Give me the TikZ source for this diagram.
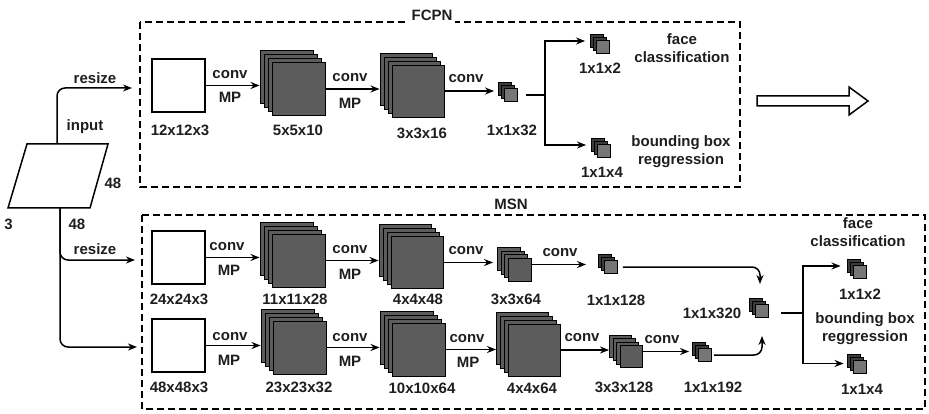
\documentclass[tikz,border=0pt]{standalone}
\usepackage{fontspec}
\setmainfont{Liberation Sans}
\usetikzlibrary{arrows.meta}
\definecolor{sheetgray}{RGB}{92,92,92}
\definecolor{cubedark}{RGB}{60,60,60}
\definecolor{cubelight}{RGB}{118,118,118}
\definecolor{txtgray}{RGB}{30,30,30}
% stack of feature maps: name, x, y (front centre), size, back sheets, step, back style, front style
\newcommand{\layerstack}[8]{%
  \foreach \k in {#5,...,1}
    \node[#7,minimum size=#4pt] (#1-\k) at ([shift={(-\k*#6,-\k*#6)}]#2,#3) {};
  \node[#8,minimum size=#4pt] (#1) at (#2,#3) {};
}
\begin{document}
\begin{tikzpicture}[x=1pt,y=-1pt,
  lbl/.style={inner sep=0pt,font=\fontsize{15}{18}\selectfont\bfseries,text=txtgray,align=center},
  inbox/.style={draw,fill=white,line width=1.1pt,minimum size=53pt,inner sep=0pt},
  bigsheet/.style={draw,fill=sheetgray,line width=0.9pt,inner sep=0pt},
  cubeback/.style={draw,fill=cubedark,line width=0.9pt,inner sep=0pt},
  cubefront/.style={draw,fill=cubelight,line width=0.9pt,inner sep=0pt},
  netframe/.style={draw,dash pattern=on 7pt off 4pt,line width=1.3pt},
  flow/.style={line width=1.5pt,-{Stealth[length=9pt,width=7pt]}},
  wire/.style={line width=1.5pt}]
\useasboundingbox (0,0) rectangle (929,414);

% frames
\draw[netframe] (140,22) rectangle (740,187);
\draw[netframe] (142,215) rectangle (925,409);
\node[lbl,fill=white,inner sep=3pt] (fcpn) at (432,15) {FCPN};
\node[lbl] (msn) at (511,204) {MSN};

% input image
\draw[line width=1.5pt,fill=white] (27,144) -- (108,144) -- (90,208) -- (8,208) -- cycle;
\coordinate (itop) at (57,144);
\coordinate (ibot) at (60,208);
\node[lbl] (ilbl) at (85,127) {input};
\node[lbl] (w48) at (113,183) {48};
\node[lbl] (h48) at (77,224) {48};
\node[lbl] (d3) at (8.5,224) {3};

% FCPN
\node[inbox] (f12) at (178.5,85.5) {};
\layerstack{f5}{298.5}{89}{53}{3}{4}{bigsheet}{bigsheet}
\layerstack{f3}{418}{91}{52}{3}{4}{bigsheet}{bigsheet}
\layerstack{f32}{511}{95}{13}{2}{3}{cubeback}{cubefront}
\layerstack{f2}{603}{47}{13}{2}{3}{cubeback}{cubefront}
\layerstack{f4}{604}{151}{13}{2}{3}{cubeback}{cubefront}

\coordinate (fin) at (132,88);
\draw[flow,rounded corners=8pt] (itop) |- (fin);
\node[lbl] at (95,78) {resize};
\draw[flow] (f12.east) -- (f12.east -| f5-3.west);
\node[lbl] at (230,75) {conv};
\node[lbl] at (230,97.5) {MP};
\draw[flow] (f5.east) -- (f5.east -| f3-3.west);
\node[lbl] at (350,78) {conv};
\node[lbl] at (350,103) {MP};
\draw[flow,shorten >=4pt] (f3.east) -- (f3.east -| f32-2.west);
\node[lbl] at (466,79) {conv};
\coordinate (fsplit) at (545,95);
\draw[wire,shorten <=8pt] (f32.east) -- (fsplit);
\draw[flow,shorten >=5pt] (fsplit) |- (f2-2.west);
\draw[flow,shorten >=5pt] (fsplit) |- (f4-2.west);

\node[lbl] at (180,130) {12x12x3};
\node[lbl] at (298,130) {5x5x10};
\node[lbl] at (422,133) {3x3x16};
\node[lbl] at (512,130) {1x1x32};
\node[lbl] at (600,68) {1x1x2};
\node[lbl] at (602,172) {1x1x4};
\node[lbl] at (682,48.5) {face\\classification};
\node[lbl] at (681,152) {bounding box\\reggression};

% big arrow
\draw[line width=1.5pt] (757,96) -- (849,96) -- (849,87) -- (868,101) -- (849,115) -- (849,106) -- (757,106) -- cycle;

% MSN
\coordinate (m24in) at (135,260);
\coordinate (m48in) at (137,347);
\draw[flow,rounded corners=8pt] (ibot) |- (m24in);
\draw[flow,rounded corners=8pt] (ibot) |- (m48in);
\node[lbl] at (95,249) {resize};

\node[inbox] (m24) at (178.5,257.5) {};
\layerstack{m11}{298.5}{260.5}{53}{3}{4}{bigsheet}{bigsheet}
\layerstack{m4a}{417}{262.5}{52}{3}{4}{bigsheet}{bigsheet}
\layerstack{m3a}{519.5}{269.5}{23}{3}{3.5}{bigsheet}{bigsheet}
\layerstack{m128}{611}{267}{13}{2}{3}{cubeback}{cubefront}
\layerstack{m320}{762}{311}{13}{2}{3}{cubeback}{cubefront}
\node[inbox] (m48) at (178.5,345.5) {};
\layerstack{m23}{299.5}{347.5}{53}{3}{4}{bigsheet}{bigsheet}
\layerstack{m10}{418.5}{349.5}{53}{3}{4}{bigsheet}{bigsheet}
\layerstack{m4b}{534.5}{350}{52}{3}{4}{bigsheet}{bigsheet}
\layerstack{m3b}{631}{356.5}{22}{3}{3.5}{bigsheet}{bigsheet}
\layerstack{m192}{705}{355}{13}{2}{3}{cubeback}{cubefront}
\layerstack{m2}{859.5}{272}{13}{2}{3}{cubeback}{cubefront}
\layerstack{m4}{859.5}{366.5}{13}{2}{3}{cubeback}{cubefront}

\draw[flow] (m24.east) -- (m24.east -| m11-3.west);
\draw[flow] (m11.east) -- (m11.east -| m4a-3.west);
\draw[flow,shorten >=4pt] (m4a.east) -- (m4a.east -| m3a-3.west);
\draw[flow,shorten >=12pt] ([yshift=5pt]m3a.east) -- ([yshift=5pt]m3a.east -| m128-2.west);
\coordinate (mj1) at (760,284);
\draw[flow,rounded corners=8pt,shorten <=5pt] (m128.east) -| (mj1);
\draw[flow] (m48.east) -- (m48.east -| m23-3.west);
\draw[flow] (m23.east) -- (m23.east -| m10-3.west);
\draw[flow] (m10.east) -- (m10.east -| m4b-3.west);
\draw[flow] (m4b.east) -- (m4b.east -| m3b-3.west);
\draw[flow,shorten >=3pt] ([yshift=5pt]m3b.east) -- ([yshift=5pt]m3b.east -| m192-2.west);
\coordinate (mj2) at (762,336);
\draw[flow,rounded corners=8pt,shorten <=2pt] (m192.east) -| (mj2);
\coordinate (msplit) at (803,313);
\draw[wire,shorten <=12pt] (msplit -| m320.east) -- (msplit);
\draw[flow,shorten >=6pt] (msplit) |- (m2-2.west);
\draw[flow,shorten >=6pt] (msplit) |- (m4-1.west);

\node[lbl] at (227,247) {conv};
\node[lbl] at (229,270) {MP};
\node[lbl] at (350,250) {conv};
\node[lbl] at (350,274) {MP};
\node[lbl] at (466,251) {conv};
\node[lbl] at (560,253) {conv};
\node[lbl] at (179,299) {24x24x3};
\node[lbl] at (295,299) {11x11x28};
\node[lbl] at (418,299) {4x4x48};
\node[lbl] at (516,299) {3x3x64};
\node[lbl] at (616,300) {1x1x128};
\node[lbl] at (712,313) {1x1x320};
\node[lbl] at (858,232) {face\\classification};
\node[lbl] at (860,294) {1x1x2};
\node[lbl] at (865,329) {bounding box\\reggression};
\node[lbl] at (862,389) {1x1x4};

\node[lbl] at (230,337) {conv};
\node[lbl] at (229,360) {MP};
\node[lbl] at (350,338) {conv};
\node[lbl] at (350,361) {MP};
\node[lbl] at (467,339) {conv};
\node[lbl] at (468,362) {MP};
\node[lbl] at (582,338) {conv};
\node[lbl] at (662,340) {conv};
\node[lbl] at (179,387) {48x48x3};
\node[lbl] at (299,387) {23x23x32};
\node[lbl] at (422,388) {10x10x64};
\node[lbl] at (532,388) {4x4x64};
\node[lbl] at (624,387) {3x3x128};
\node[lbl] at (713,387) {1x1x192};
\end{tikzpicture}
\end{document}
